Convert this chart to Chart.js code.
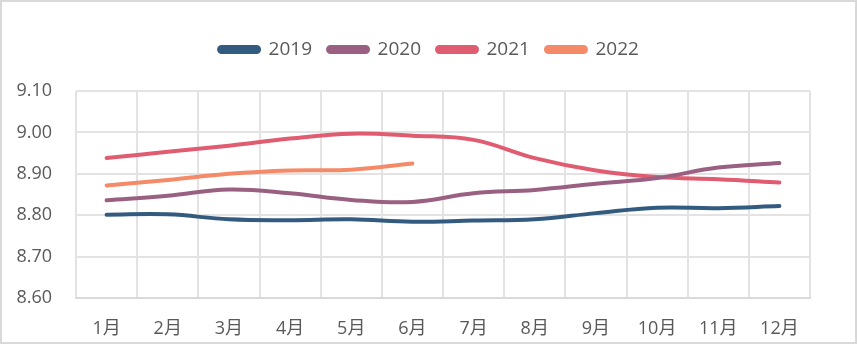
<!DOCTYPE html>
<html>
<head>
<meta charset="utf-8">
<script src="https://cdn.jsdelivr.net/npm/chart.js@4/dist/chart.umd.min.js"></script>
<style>
  html, body { margin: 0; padding: 0; background: #fff; }
  #wrap { width: 858px; height: 345px; }
</style>
</head>
<body>
<div id="wrap"><canvas id="myChart" width="858" height="345"></canvas></div>
<script>
// labels along the x-axis
var months = ["1月","2月","3月","4月","5月","6月","7月","8月","9月","10月","11月","12月"];
// one array per year
var y2019 = [8.801, 8.802, 8.790, 8.788, 8.790, 8.784, 8.787, 8.790, 8.805, 8.818, 8.817, 8.822];
var y2020 = [8.836, 8.847, 8.862, 8.853, 8.837, 8.832, 8.853, 8.861, 8.876, 8.890, 8.915, 8.926];
var y2021 = [8.938, 8.953, 8.968, 8.985, 8.997, 8.992, 8.982, 8.938, 8.908, 8.892, 8.887, 8.879];
var y2022 = [8.872, 8.885, 8.900, 8.908, 8.910, 8.925];

var font = "'Open Sans', 'Noto Sans CJK SC', sans-serif";
var textColor = "#595959";
var gridColor = "#e3e3e3";

function line(label, data, color) {
  return {
    label: label,
    data: data,
    borderColor: color,
    backgroundColor: color,
    borderWidth: 4,
    borderCapStyle: "round",
    pointRadius: 0,
    tension: 0.4,
    fill: false
  };
}

// light grey frame round the whole picture
var frame = {
  id: "frame",
  afterDraw: function (chart) {
    var c = chart.ctx;
    c.save();
    c.strokeStyle = "#d9d9d9";
    c.lineWidth = 2;
    c.strokeRect(1, 1, 855, 342);
    c.restore();
  }
};

// extra space under the legend
var legendGap = {
  id: "legendGap",
  beforeLayout: function (chart) {
    var lg = chart.legend;
    if (lg && !lg._patched) {
      var fit = lg.fit;
      lg.fit = function () { fit.call(this); this.height += 22; };
      lg._patched = true;
    }
  }
};

var ctx = document.getElementById("myChart");
var myChart = new Chart(ctx, {
  type: "line",
  data: {
    labels: months,
    datasets: [
      line("2019", y2019, "#335b80"),
      line("2020", y2020, "#9a6082"),
      line("2021", y2021, "#e05c70"),
      line("2022", y2022, "#f58a69")
    ]
  },
  plugins: [frame, legendGap],
  options: {
    responsive: false,
    animation: false,
    layout: { padding: { top: 24, left: 0, right: 0, bottom: 0 } },
    plugins: {
      tooltip: { enabled: false },
      legend: {
        position: "top",
        labels: {
          color: textColor,
          font: { family: font, size: 19 },
          boxWidth: 40,
          boxHeight: 5,
          useBorderRadius: true,
          borderRadius: 2.5,
          padding: 16
        }
      }
    },
    scales: {
      x: {
        offset: true,
        grid: { color: gridColor, lineWidth: 2, drawTicks: false, offset: true },
        border: { color: "#d9d9d9", width: 2 },
        ticks: { color: textColor, font: { family: font, size: 18 }, padding: 20, maxRotation: 0 },
        afterFit: function (s) { s.height = 47; }
      },
      y: {
        min: 8.6,
        max: 9.1,
        grid: { color: gridColor, lineWidth: 2, drawTicks: false },
        border: { display: false },
        ticks: {
          stepSize: 0.1,
          color: textColor,
          font: { family: font, size: 18 },
          padding: 24,
          callback: function (v) { return v.toFixed(2); }
        },
        afterFit: function (s) { s.width = 76; }
      },
      // empty axis that only keeps the right margin
      yRight: {
        position: "right",
        grid: { display: false },
        border: { display: false },
        ticks: { display: false },
        afterFit: function (s) { s.width = 48; }
      }
    }
  }
});
</script>
</body>
</html>
